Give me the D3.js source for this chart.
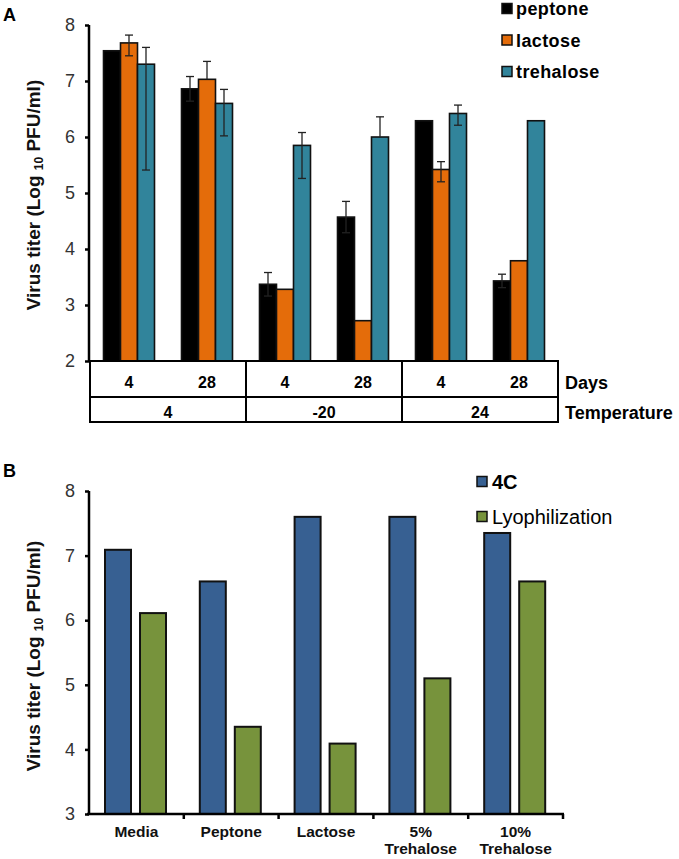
<!DOCTYPE html>
<html><head><meta charset="utf-8">
<script src="https://cdn.jsdelivr.net/npm/d3@7"></script>
<style>body{margin:0;background:#fff}svg{display:block;font-family:"Liberation Sans",Arial,sans-serif}</style>
</head><body>
<script>
// ---------- Panel A data ----------
const seriesA = ["peptone", "lactose", "trehalose"];
const colorsA = ["#000000", "#E46C0A", "#31849B"];
const temperatures = ["4", "-20", "24"];
const days = ["4", "28"];
const peptone   = [7.54, 6.86, 3.37, 4.57, 6.29, 3.43];
const lactose   = [7.68, 7.03, 3.28, 2.72, 5.42, 3.79];
const trehalose = [7.30, 6.60, 5.85, 6.00, 6.42, 6.29];
const peptoneErrUp   = [0, 0.22, 0.21, 0.28, 0, 0.12];
const peptoneErrDn   = [0, 0.22, 0.21, 0.28, 0, 0.12];
const lactoseErrUp   = [0.14, 0.32, 0, 0, 0.14, 0];
const lactoseErrDn   = [0.23, 0, 0, 0, 0.22, 0];
const trehaloseErrUp = [0.30, 0.25, 0.23, 0.36, 0.15, 0];
const trehaloseErrDn = [1.89, 0.58, 0.59, 0, 0.21, 0];
const ticksA = [2, 3, 4, 5, 6, 7, 8];

// ---------- Panel B data ----------
const categoriesB = ["Media", "Peptone", "Lactose", "5% Trehalose", "10% Trehalose"];
const seriesB = ["4C", "Lyophilization"];
const colorsB = ["#376092", "#77933C"];
const values4C = [7.09, 6.60, 7.60, 7.60, 7.35];
const valuesLyo = [6.11, 4.35, 4.09, 5.10, 6.60];
const ticksB = [3, 4, 5, 6, 7, 8];

const W = 679, H = 859;
const svg = d3.select("body").append("svg").attr("width", W).attr("height", H);

// ================= PANEL A =================
const gA = svg.append("g");
const slots = [];
temperatures.forEach(t => days.forEach(d => slots.push(t + "|" + d)));
const xA = d3.scaleBand().domain(slots).range([90, 558]);
const xInA = d3.scaleBand().domain(seriesA).range([13.5, 64.5]);
const yA = d3.scaleLinear().domain([2, 8]).range([361, 25]);

const valsA = [peptone, lactose, trehalose];
const errUpA = [peptoneErrUp, lactoseErrUp, trehaloseErrUp];
const errDnA = [peptoneErrDn, lactoseErrDn, trehaloseErrDn];
const barsA = [];
seriesA.forEach((s, si) => slots.forEach((sl, i) => barsA.push({
  s, si, sl, v: valsA[si][i], up: errUpA[si][i], dn: errDnA[si][i]
})));

gA.selectAll("rect.bar").data(barsA).join("rect")
  .attr("x", d => xA(d.sl) + xInA(d.s))
  .attr("y", d => yA(d.v))
  .attr("width", xInA.bandwidth())
  .attr("height", d => yA(2) - yA(d.v))
  .attr("fill", d => colorsA[d.si])
  .attr("stroke", "#111").attr("stroke-width", 1.6);

// error bars
const eb = gA.selectAll("g.eb").data(barsA.filter(d => d.up > 0 || d.dn > 0)).join("g")
  .attr("stroke", "#222").attr("stroke-width", 1.3);
eb.append("line")
  .attr("x1", d => xA(d.sl) + xInA(d.s) + xInA.bandwidth() / 2)
  .attr("x2", d => xA(d.sl) + xInA(d.s) + xInA.bandwidth() / 2)
  .attr("y1", d => yA(d.v + d.up)).attr("y2", d => yA(d.v - d.dn));
eb.filter(d => d.up > 0).append("line")
  .attr("x1", d => xA(d.sl) + xInA(d.s) + xInA.bandwidth() / 2 - 4)
  .attr("x2", d => xA(d.sl) + xInA(d.s) + xInA.bandwidth() / 2 + 4)
  .attr("y1", d => yA(d.v + d.up)).attr("y2", d => yA(d.v + d.up));
eb.filter(d => d.dn > 0).append("line")
  .attr("x1", d => xA(d.sl) + xInA(d.s) + xInA.bandwidth() / 2 - 4)
  .attr("x2", d => xA(d.sl) + xInA(d.s) + xInA.bandwidth() / 2 + 4)
  .attr("y1", d => yA(d.v - d.dn)).attr("y2", d => yA(d.v - d.dn));

// y axis A
const axA = gA.append("g").attr("transform", "translate(89,0)")
  .call(d3.axisLeft(yA).tickValues(ticksA).tickSize(4).tickPadding(10).tickFormat(d3.format("d")));
axA.select(".domain").attr("stroke", "#000").attr("stroke-width", 2.5).attr("d", `M0,${yA(8)}V${yA(2)}`);
axA.selectAll(".tick line").attr("stroke", "#000").attr("stroke-width", 2.5);
axA.selectAll(".tick text").attr("font-size", 18).attr("fill", "#333")
  .attr("font-family", "Liberation Sans, Arial, sans-serif");

// table under panel A
const tTop = 361, tMid = 397, tBot = 422;
const tbl = gA.append("g").attr("fill", "none").attr("stroke", "#000").attr("stroke-width", 2);
tbl.append("rect").attr("x", xA.range()[0]).attr("y", tTop)
  .attr("width", xA.range()[1] - xA.range()[0]).attr("height", tBot - tTop);
tbl.append("line").attr("x1", xA.range()[0]).attr("x2", xA.range()[1]).attr("y1", tMid).attr("y2", tMid);
temperatures.slice(1).forEach(t => {
  tbl.append("line").attr("x1", xA(t + "|4")).attr("x2", xA(t + "|4")).attr("y1", tTop).attr("y2", tBot);
});
gA.selectAll("text.day").data(slots).join("text")
  .attr("x", d => xA(d) + xA.bandwidth() / 2).attr("y", 388)
  .attr("text-anchor", "middle").attr("font-size", 16).attr("font-weight", "bold")
  .text(d => d.split("|")[1]);
gA.selectAll("text.temp").data(temperatures).join("text")
  .attr("x", d => xA(d + "|4") + xA.bandwidth()).attr("y", 418)
  .attr("text-anchor", "middle").attr("font-size", 16).attr("font-weight", "bold")
  .text(d => d);
gA.append("text").attr("x", 565).attr("y", 389).attr("font-size", 18).attr("font-weight", "bold").text("Days");
gA.append("text").attr("x", 565).attr("y", 419).attr("font-size", 18).attr("font-weight", "bold").text("Temperature");

// legend A
seriesA.forEach((s, i) => {
  const y = 9 + i * 31.5;
  gA.append("rect").attr("x", 502).attr("y", y - 5.5).attr("width", 10).attr("height", 10)
    .attr("fill", colorsA[i]).attr("stroke", "#111").attr("stroke-width", 1.5);
  gA.append("text").attr("x", 516).attr("y", y + 6).attr("font-size", 18).attr("font-weight", "bold")
    .attr("letter-spacing", 0.4).text(s);
});

// panel label and y title
svg.append("text").attr("x", 3).attr("y", 21).attr("font-size", 18).attr("font-weight", "bold").text("A");
function yTitle(cx, cy) {
  const t = svg.append("text").attr("transform", `translate(${cx},${cy}) rotate(-90)`)
    .attr("text-anchor", "middle").attr("font-size", 19).attr("font-weight", "bold").attr("fill", "#111");
  t.append("tspan").text("Virus titer (Log ");
  t.append("tspan").attr("font-size", 12).attr("dy", 3).text("10");
  t.append("tspan").attr("dy", -3).text(" PFU/ml)");
}
yTitle(40, 195);

// ================= PANEL B =================
const gB = svg.append("g");
const xB = d3.scaleBand().domain(categoriesB).range([89, 563]);
const xInB = d3.scaleBand().domain(seriesB).range([16, 77]).paddingInner(0.257);
const yB = d3.scaleLinear().domain([3, 8]).range([814, 491]);
const valsB = [values4C, valuesLyo];
const barsB = [];
seriesB.forEach((s, si) => categoriesB.forEach((c, i) => barsB.push({ s, si, c, v: valsB[si][i] })));

gB.selectAll("rect.bar").data(barsB).join("rect")
  .attr("x", d => xB(d.c) + xInB(d.s))
  .attr("y", d => yB(d.v))
  .attr("width", xInB.bandwidth())
  .attr("height", d => yB(3) - yB(d.v))
  .attr("fill", d => colorsB[d.si])
  .attr("stroke", "#111").attr("stroke-width", 2);

const axBy = gB.append("g").attr("transform", "translate(89,0)")
  .call(d3.axisLeft(yB).tickValues(ticksB).tickSize(4).tickPadding(10).tickFormat(d3.format("d")));
axBy.select(".domain").attr("stroke", "#000").attr("stroke-width", 2.5).attr("d", `M0,${yB(8)}V${yB(3)}`);
axBy.selectAll(".tick line").attr("stroke", "#000").attr("stroke-width", 2.5);
axBy.selectAll(".tick text").attr("font-size", 18).attr("fill", "#333")
  .attr("font-family", "Liberation Sans, Arial, sans-serif");

// x axis B (ticks at category boundaries)
const axBx = gB.append("g").attr("transform", "translate(0,814)");
axBx.append("line").attr("x1", 87).attr("x2", 564).attr("y1", 0).attr("y2", 0)
  .attr("stroke", "#000").attr("stroke-width", 2.5);
axBx.selectAll("line.tk").data(categoriesB).join("line")
  .attr("x1", d => xB(d) + xB.bandwidth()).attr("x2", d => xB(d) + xB.bandwidth())
  .attr("y1", 0).attr("y2", 5).attr("stroke", "#000").attr("stroke-width", 2.5);
axBx.selectAll("text.cat").data(categoriesB).join("text")
  .attr("text-anchor", "middle").attr("font-size", 15.5).attr("font-weight", "bold").attr("fill", "#111")
  .each(function (d) {
    const parts = d.split(" ");
    const t = d3.select(this);
    parts.forEach((p, i) => t.append("tspan").attr("x", xB(d) + xB.bandwidth() / 2)
      .attr("y", 23 + i * 17).text(p));
  });

// legend B
seriesB.forEach((s, i) => {
  const y = 482 + i * 35;
  gB.append("rect").attr("x", 477).attr("y", y - 5.5).attr("width", 10).attr("height", 10)
    .attr("fill", colorsB[i]).attr("stroke", "#111").attr("stroke-width", 1.5);
  gB.append("text").attr("x", 492).attr("y", y + 7).attr("font-size", 20)
    .attr("font-weight", i === 0 ? "bold" : "normal").text(s);
});

svg.append("text").attr("x", 3).attr("y", 477).attr("font-size", 18).attr("font-weight", "bold").text("B");
yTitle(40, 656);
</script>
</body></html>
